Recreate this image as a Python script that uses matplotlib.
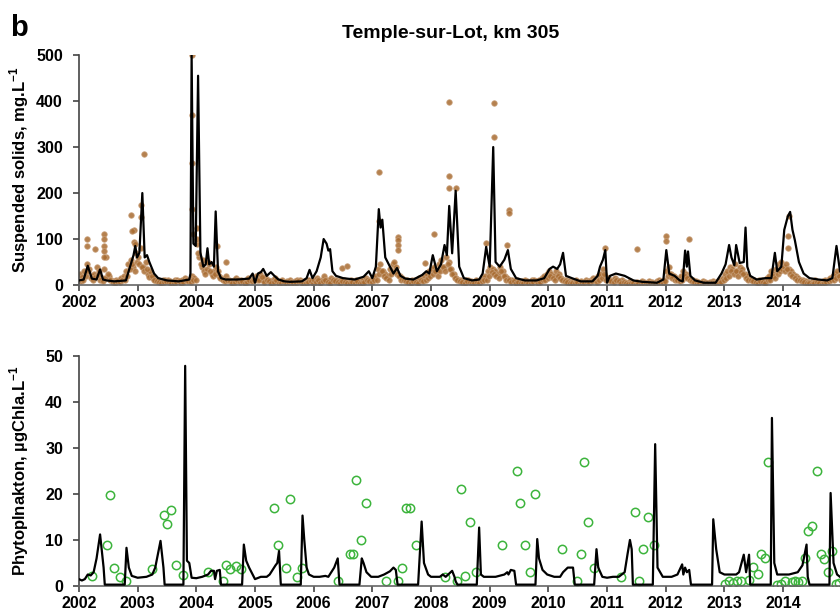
import numpy as np
import matplotlib.pyplot as plt

plt.rcParams['font.family'] = ['Liberation Sans', 'DejaVu Sans']
plt.rcParams['font.weight'] = 'bold'
plt.rcParams['mathtext.fontset'] = 'custom'
plt.rcParams['mathtext.rm'] = 'Liberation Sans:bold'
plt.rcParams['mathtext.bf'] = 'Liberation Sans:bold'

years = list(range(2002, 2015))

# suspended solids, model (black line)
ss_model_t = [2002.0, 2002.08, 2002.15, 2002.22, 2002.3, 2002.36, 2002.41, 2002.47, 2002.6, 2002.8,
              2002.87, 2002.93, 2002.96, 2002.99, 2003.03, 2003.08, 2003.12, 2003.16, 2003.2, 2003.28,
              2003.35, 2003.5, 2003.7, 2003.88, 2003.9, 2003.92, 2003.95, 2003.99, 2004.03, 2004.07,
              2004.12, 2004.16, 2004.19, 2004.22, 2004.26, 2004.3, 2004.33, 2004.37, 2004.42, 2004.5,
              2004.7, 2004.9, 2004.96, 2005.0, 2005.05, 2005.1, 2005.14, 2005.2, 2005.27, 2005.33,
              2005.4, 2005.5, 2005.6, 2005.8, 2005.88, 2005.93, 2005.98, 2006.05, 2006.12, 2006.17,
              2006.22, 2006.25, 2006.28, 2006.32, 2006.38, 2006.5, 2006.7, 2006.85, 2006.94, 2007.0,
              2007.06, 2007.11, 2007.14, 2007.17, 2007.22, 2007.3, 2007.36, 2007.42, 2007.48, 2007.56,
              2007.7, 2007.85, 2007.92, 2007.97, 2008.03, 2008.1, 2008.17, 2008.23, 2008.27, 2008.31,
              2008.36, 2008.42, 2008.48, 2008.56, 2008.7, 2008.82, 2008.88, 2008.94, 2009.0, 2009.06,
              2009.1, 2009.17, 2009.25, 2009.31, 2009.36, 2009.45, 2009.6, 2009.8, 2009.93, 2010.02,
              2010.08, 2010.15, 2010.2, 2010.25, 2010.3, 2010.4, 2010.55, 2010.75, 2010.84, 2010.88,
              2010.93, 2010.97, 2011.0, 2011.05, 2011.15, 2011.3, 2011.45, 2011.6, 2011.85, 2011.96,
              2012.01, 2012.06, 2012.15, 2012.24, 2012.29, 2012.33, 2012.36, 2012.38, 2012.42, 2012.5,
              2012.65, 2012.85, 2012.95, 2013.02, 2013.08, 2013.12, 2013.17, 2013.2, 2013.26, 2013.33,
              2013.36, 2013.39, 2013.44, 2013.55, 2013.7, 2013.8, 2013.86, 2013.9, 2013.97, 2014.02,
              2014.08, 2014.12, 2014.16, 2014.2, 2014.27, 2014.35, 2014.45, 2014.6, 2014.75, 2014.84,
              2014.91, 2014.97]
ss_model_v = [10, 12, 42, 14, 12, 34, 12, 10, 8, 10,
              40, 65, 85, 60, 70, 200, 60, 65, 50, 25,
              15, 10, 8, 12, 25, 500, 90, 85, 455, 70,
              40, 45, 80, 45, 50, 40, 160, 30, 15, 12,
              12, 14, 25, 5, 25, 28, 35, 20, 28, 20,
              12, 8, 7, 8, 15, 33, 15, 30, 60, 100,
              90, 75, 78, 30, 20, 15, 12, 18, 30, 15,
              40, 165, 125, 142, 60, 40, 25, 37, 20, 14,
              12, 22, 30, 25, 65, 30, 45, 87, 65, 172,
              69, 205, 40, 15, 10, 12, 25, 83, 40, 300,
              50, 40, 55, 76, 35, 15, 10, 10, 15, 35,
              40, 35, 45, 70, 20, 15, 8, 8, 20, 40,
              55, 76, 5, 20, 25, 20, 10, 7, 5, 12,
              76, 25, 20, 10, 8, 75, 40, 73, 20, 10,
              5, 5, 25, 45, 87, 60, 43, 87, 48, 50,
              125, 40, 20, 12, 15, 15, 70, 30, 40, 120,
              149, 159, 120, 98, 50, 25, 15, 12, 10, 15,
              85, 30]

# suspended solids, routine samples, two lists per year, twice a month each (brown dots)
ss_obs_2002 = [25, 18, 30, 45, 35, 20, 25, 40, 30, 15, 35, 60, 20, 10, 8, 12, 10, 15, 20, 30, 45, 55, 40, 70]
ss_obs_2002b = [8, 12, 20, 30, 15, 10, 18, 22, 12, 8, 15, 25, 10, 6, 5, 8, 6, 10, 12, 20, 35, 45, 30, 50]
ss_obs_2003 = [60, 80, 40, 50, 25, 30, 15, 12, 10, 8, 10, 12, 10, 8, 6, 10, 12, 8, 10, 15, 12, 10, 20, 15]
ss_obs_2003b = [45, 40, 30, 35, 18, 20, 10, 8, 6, 5, 6, 8, 6, 5, 4, 6, 8, 5, 6, 10, 8, 6, 12, 10]
ss_obs_2004 = [90, 60, 40, 30, 35, 45, 25, 30, 40, 20, 15, 10, 20, 12, 8, 10, 15, 10, 12, 8, 10, 15, 10, 12]
ss_obs_2004b = [70, 45, 55, 25, 50, 30, 20, 25, 30, 15, 10, 8, 12, 8, 5, 6, 10, 6, 8, 5, 6, 10, 8, 10]
ss_obs_2005 = [20, 15, 25, 10, 18, 12, 8, 10, 15, 6, 8, 10, 5, 8, 10, 6, 8, 12, 10, 5, 8, 10, 12, 8]
ss_obs_2005b = [12, 10, 18, 6, 12, 8, 5, 6, 10, 4, 5, 6, 3, 5, 6, 4, 5, 8, 6, 3, 5, 6, 8, 5]
ss_obs_2006 = [10, 15, 8, 12, 20, 10, 8, 15, 12, 10, 8, 12, 10, 8, 6, 10, 8, 12, 6, 8, 10, 15, 12, 10]
ss_obs_2006b = [6, 10, 5, 8, 12, 6, 5, 10, 8, 6, 5, 8, 6, 5, 4, 6, 5, 8, 4, 5, 6, 10, 8, 6]
ss_obs_2007 = [15, 20, 35, 45, 30, 25, 20, 35, 45, 30, 25, 20, 15, 12, 10, 8, 12, 10, 8, 15, 12, 20, 25, 30]
ss_obs_2007b = [10, 12, 25, 30, 20, 15, 12, 25, 50, 40, 20, 12, 10, 8, 6, 5, 8, 6, 5, 10, 8, 12, 15, 20]
ss_obs_2008 = [35, 40, 30, 45, 55, 40, 60, 50, 35, 25, 15, 12, 10, 8, 12, 10, 8, 6, 10, 8, 12, 15, 20, 30]
ss_obs_2008b = [25, 30, 20, 30, 40, 30, 45, 35, 25, 15, 10, 8, 6, 5, 8, 6, 5, 4, 6, 5, 8, 10, 12, 20]
ss_obs_2009 = [40, 35, 30, 25, 40, 30, 20, 15, 10, 12, 8, 10, 6, 8, 10, 8, 6, 10, 12, 8, 10, 15, 20, 25]
ss_obs_2009b = [28, 25, 20, 15, 30, 20, 12, 10, 6, 8, 5, 6, 4, 5, 6, 5, 4, 6, 8, 5, 6, 10, 12, 15]
ss_obs_2010 = [30, 25, 20, 30, 25, 15, 12, 10, 8, 6, 8, 10, 5, 8, 6, 10, 8, 12, 15, 10, 20, 25, 35, 20]
ss_obs_2010b = [20, 15, 12, 20, 15, 10, 8, 6, 5, 4, 5, 6, 3, 5, 4, 6, 5, 8, 10, 6, 12, 15, 25, 12]
ss_obs_2011 = [15, 12, 10, 15, 12, 8, 10, 6, 5, 8, 6, 4, 6, 5, 8, 6, 5, 8, 6, 5, 8, 10, 8, 12]
ss_obs_2011b = [10, 8, 6, 10, 8, 5, 6, 4, 3, 5, 4, 3, 4, 3, 5, 4, 3, 5, 4, 3, 5, 6, 5, 8]
ss_obs_2012 = [30, 40, 25, 20, 15, 12, 20, 30, 25, 15, 12, 10, 8, 6, 5, 8, 6, 5, 6, 8, 5, 8, 10, 15]
ss_obs_2012b = [20, 25, 15, 12, 10, 8, 12, 20, 15, 10, 8, 6, 5, 4, 3, 5, 4, 3, 4, 5, 3, 5, 6, 10]
ss_obs_2013 = [25, 30, 40, 35, 45, 30, 40, 35, 25, 20, 15, 12, 10, 8, 12, 10, 8, 15, 20, 30, 25, 35, 45, 50]
ss_obs_2013b = [15, 20, 30, 25, 30, 20, 28, 25, 15, 12, 10, 8, 6, 5, 8, 6, 5, 10, 12, 20, 15, 25, 30, 35]
ss_obs_2014 = [40, 45, 35, 30, 25, 20, 15, 12, 10, 8, 6, 5, 8, 10, 6, 5, 8, 10, 12, 15, 20, 25, 30, 20]
ss_obs_2014b = [30, 35, 25, 20, 15, 12, 10, 8, 6, 5, 4, 3, 5, 6, 4, 3, 5, 6, 8, 10, 12, 15, 20, 12]

# suspended solids, storm samples (brown dots above the band)
ss_peak_t = [2002.14, 2002.14, 2002.27, 2002.42, 2002.42, 2002.42, 2002.42, 2002.42, 2002.88, 2002.93,
             2002.9, 2002.93, 2002.95, 2003.05, 2003.06, 2003.1, 2003.92, 2003.92, 2003.92, 2003.92,
             2003.94, 2004.01, 2004.01, 2004.35, 2004.5, 2006.49, 2006.57, 2007.12, 2007.12, 2007.44,
             2007.44, 2007.44, 2007.44, 2007.9, 2008.05, 2008.31, 2008.31, 2008.31, 2008.42, 2008.93,
             2009.07, 2009.07, 2009.33, 2009.33, 2009.3, 2010.97, 2011.51, 2012.01, 2012.01, 2012.4,
             2014.1, 2014.08, 2014.08]
ss_peak_v = [101, 85, 78, 112, 100, 85, 75, 60, 152, 120,
             118, 93, 90, 175, 148, 285, 500, 370, 265, 165,
             110, 125, 100, 85, 50, 36, 41, 245, 140, 104,
             97, 87, 76, 48, 112, 398, 238, 212, 212, 91,
             396, 322, 164, 156, 87, 80, 78, 106, 96, 100,
             150, 106, 80]

# phytoplankton, model (black line)
phy_model_t = [2002.0, 2002.05, 2002.1, 2002.15, 2002.2, 2002.25, 2002.3, 2002.36, 2002.42, 2002.44,
               2002.78, 2002.81, 2002.85, 2002.9, 2003.0, 2003.15, 2003.25, 2003.3, 2003.39, 2003.44,
               2003.46, 2003.78, 2003.81, 2003.84, 2003.88, 2003.92, 2004.0, 2004.1, 2004.2, 2004.25,
               2004.3, 2004.32, 2004.35, 2004.4, 2004.42, 2004.78, 2004.81, 2004.85, 2004.9, 2004.98,
               2005.0, 2005.1, 2005.2, 2005.25, 2005.3, 2005.35, 2005.38, 2005.41, 2005.44, 2005.78,
               2005.81, 2005.84, 2005.88, 2005.92, 2006.0, 2006.1, 2006.2, 2006.25, 2006.3, 2006.35,
               2006.41, 2006.44, 2006.78, 2006.82, 2006.85, 2006.9, 2006.98, 2007.1, 2007.2, 2007.3,
               2007.36, 2007.4, 2007.43, 2007.78, 2007.84, 2007.88, 2007.95, 2008.0, 2008.15, 2008.2,
               2008.25, 2008.36, 2008.4, 2008.42, 2008.45, 2008.78, 2008.82, 2008.85, 2008.9, 2009.1,
               2009.25, 2009.3, 2009.32, 2009.36, 2009.42, 2009.45, 2009.78, 2009.81, 2009.84, 2009.9,
               2009.98, 2010.1, 2010.2, 2010.25, 2010.33, 2010.42, 2010.45, 2010.78, 2010.82, 2010.85,
               2010.92, 2011.0, 2011.1, 2011.2, 2011.3, 2011.35, 2011.39, 2011.42, 2011.44, 2011.78,
               2011.82, 2011.86, 2011.95, 2012.1, 2012.2, 2012.28, 2012.3, 2012.33, 2012.36, 2012.4,
               2012.43, 2012.79, 2012.81, 2012.86, 2012.92, 2013.0, 2013.2, 2013.25, 2013.33, 2013.37,
               2013.42, 2013.44, 2013.79, 2013.81, 2013.85, 2013.9, 2014.1, 2014.25, 2014.33, 2014.4,
               2014.42, 2014.45, 2014.79, 2014.81, 2014.86, 2014.92, 2014.97]
phy_model_v = [1.5, 1.2, 1.5, 2.5, 2.3, 3.0, 6.0, 11.2, 4.0, 0.3,
               0.3, 8.3, 4.0, 2.2, 1.8, 2.0, 2.5, 4.0, 9.8, 4.0,
               0.3, 0.3, 47.8, 5.5, 5.0, 1.8, 1.7, 2.0, 2.5, 3.3,
               3.3, 1.5, 3.3, 3.5, 0.3, 0.3, 9.0, 5.5, 4.0, 2.0,
               1.5, 2.0, 2.0, 2.5, 3.5, 4.5, 5.0, 7.6, 0.3, 0.3,
               15.3, 10.0, 4.0, 2.5, 2.0, 2.0, 2.2, 2.0, 3.0, 4.0,
               6.0, 0.3, 0.3, 6.0, 5.0, 3.0, 2.0, 2.0, 2.5, 3.2,
               4.0, 3.5, 0.3, 0.3, 14.0, 5.0, 2.5, 2.0, 2.0, 2.5,
               2.0, 3.3, 2.0, 1.0, 0.3, 0.3, 12.7, 2.5, 2.0, 2.0,
               2.5, 3.0, 2.5, 3.5, 3.3, 0.3, 0.3, 10.2, 6.0, 3.5,
               2.5, 2.0, 2.0, 3.0, 4.0, 4.0, 0.3, 0.3, 8.0, 4.0,
               2.0, 1.8, 2.0, 2.0, 3.0, 7.0, 10.0, 8.0, 0.3, 0.3,
               30.8, 4.0, 2.0, 2.0, 2.5, 4.7, 2.5, 4.0, 3.0, 3.5,
               0.3, 0.3, 14.5, 8.0, 3.0, 2.5, 2.5, 3.0, 6.8, 3.0,
               6.8, 0.3, 0.3, 36.5, 5.0, 2.5, 2.5, 3.0, 4.5, 9.0,
               2.0, 0.3, 0.3, 20.2, 5.0, 2.5, 2.0]

# phytoplankton, observations (green circles)
phy_obs_t = [2002.23, 2002.47, 2002.53, 2002.6, 2002.7, 2002.8, 2003.25, 2003.45, 2003.5, 2003.57,
             2003.65, 2003.78, 2004.2, 2004.45, 2004.5, 2004.58, 2004.67, 2004.77, 2005.32, 2005.4,
             2005.52, 2005.6, 2005.72, 2005.8, 2006.42, 2006.62, 2006.67, 2006.72, 2006.81, 2006.9,
             2007.23, 2007.44, 2007.5, 2007.57, 2007.65, 2007.75, 2008.23, 2008.45, 2008.51, 2008.58,
             2008.67, 2008.77, 2009.21, 2009.46, 2009.52, 2009.6, 2009.69, 2009.78, 2010.23, 2010.48,
             2010.56, 2010.61, 2010.68, 2010.78, 2011.24, 2011.47, 2011.55, 2011.62, 2011.69, 2011.8,
             2013.01, 2013.08, 2013.14, 2013.22, 2013.28, 2013.42, 2013.48, 2013.58, 2013.63, 2013.69,
             2013.75, 2013.89, 2013.96, 2014.03, 2014.15, 2014.2, 2014.26, 2014.32, 2014.38, 2014.43,
             2014.5, 2014.57, 2014.64, 2014.7, 2014.77, 2014.83, 2014.9, 2014.95]
phy_obs_v = [2.2, 9.0, 19.8, 4.0, 2.0, 1.0, 3.7, 15.5, 13.5, 16.5,
             4.5, 2.5, 3.0, 1.0, 4.5, 3.7, 4.4, 3.7, 17.0, 9.0,
             4.0, 19.0, 2.0, 4.0, 1.0, 7.0, 7.0, 23.0, 10.0, 18.0,
             1.0, 1.0, 4.0, 17.0, 17.0, 9.0, 2.0, 1.2, 21.0, 2.2,
             14.0, 3.0, 9.0, 25.0, 18.0, 9.0, 3.0, 20.0, 8.0, 1.2,
             7.0, 27.0, 14.0, 4.0, 2.0, 16.0, 1.2, 8.0, 15.0, 9.0,
             0.4, 1.2, 0.6, 1.2, 1.2, 1.3, 4.2, 2.6, 7.0, 6.0,
             27.0, 0.2, 0.4, 1.2, 0.8, 1.2, 0.8, 1.2, 6.0, 12.0,
             13.0, 25.0, 7.0, 5.8, 3.0, 7.5, 0.4, 0.6]

ss_obs_a = [ss_obs_2002, ss_obs_2003, ss_obs_2004, ss_obs_2005, ss_obs_2006, ss_obs_2007,
            ss_obs_2008, ss_obs_2009, ss_obs_2010, ss_obs_2011, ss_obs_2012, ss_obs_2013,
            ss_obs_2014]
ss_obs_b = [ss_obs_2002b, ss_obs_2003b, ss_obs_2004b, ss_obs_2005b, ss_obs_2006b, ss_obs_2007b,
            ss_obs_2008b, ss_obs_2009b, ss_obs_2010b, ss_obs_2011b, ss_obs_2012b, ss_obs_2013b,
            ss_obs_2014b]
ss_obs_t = []
ss_obs_v = []
for yr, va, vb in zip(years, ss_obs_a, ss_obs_b):
    n = len(va)
    ss_obs_t += [yr + (k + 0.25) / n for k in range(n)] + [yr + (k + 0.75) / n for k in range(n)]
    ss_obs_v += va + vb

fig = plt.figure(figsize=(8.4, 6.13), dpi=100)
ax1 = fig.add_axes([0.094, 0.535, 0.906, 0.3752])
ax2 = fig.add_axes([0.094, 0.044, 0.906, 0.3757])

brown = '#a86b30'
dot = dict(ms=4.0, mfc=brown, mec='#c8a07a', mew=0.6, alpha=0.85, zorder=2, ls='none')
ax1.plot(ss_obs_t, ss_obs_v, 'o', **dot)
ax1.plot(ss_peak_t, ss_peak_v, 'o', **dot)
ax1.plot(ss_model_t, ss_model_v, color='black', lw=1.6, zorder=3)
ax1.set_ylim(0, 500)
ax1.set_yticks([0, 100, 200, 300, 400, 500])
ax1.set_ylabel(r'Suspended solids, mg.L$^{-1}$', fontsize=12, fontweight='bold')

ax2.plot(phy_obs_t, phy_obs_v, 'o', ms=6, mfc='none', mec='#3cb43c', mew=1.1, zorder=2)
ax2.plot(phy_model_t, phy_model_v, color='black', lw=1.6, zorder=3)
ax2.set_ylim(0, 50)
ax2.set_yticks([0, 10, 20, 30, 40, 50])
ax2.set_ylabel(r'Phytoplnakton, µgChla.L$^{-1}$', fontsize=12, fontweight='bold')

for ax in (ax1, ax2):
    ax.set_xlim(2002, 2014.97)
    ax.set_xticks(years)
    ax.set_xticklabels([str(y) for y in years])
    ax.spines[['right', 'top']].set_visible(False)
    ax.spines['left'].set_color('#444444')
    ax.spines['bottom'].set_color('#666666')
    ax.spines[['left', 'bottom']].set_linewidth(1.2)
    ax.tick_params(axis='both', direction='out', length=4.5, width=1.2, color='#444444',
                   labelsize=11.5)
    ax.tick_params(axis='y', pad=7)
    ax.tick_params(axis='x', pad=3)
    ax.yaxis.set_label_coords(-0.063, 0.5)
    for lbl in ax.get_xticklabels() + ax.get_yticklabels():
        lbl.set_fontweight('bold')

fig.text(0.536, 0.946, 'Temple-sur-Lot, km 305', ha='center', va='center', fontsize=14,
         fontweight='bold')
fig.text(0.012, 0.955, 'b', ha='left', va='center', fontsize=21, fontweight='bold')

fig.savefig('out.png', dpi=100)
